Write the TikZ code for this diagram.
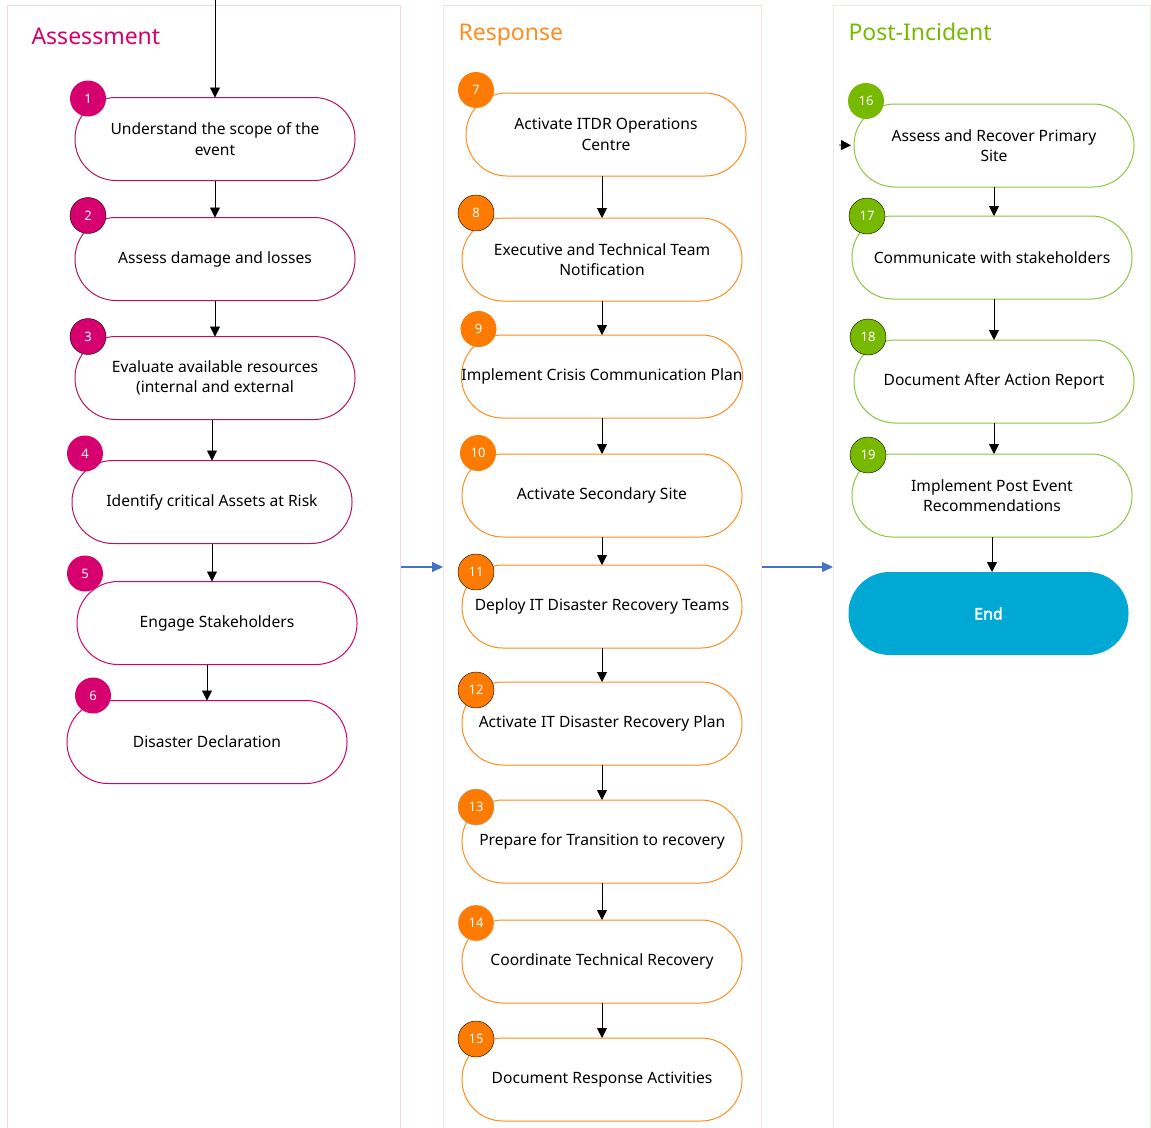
\documentclass[tikz,border=0pt]{standalone}
\usepackage{fontspec}
\setmainfont{Noto Sans}
\newfontfamily\endfont{Noto Sans}[FakeBold=2.5]
\usepackage{xcolor}
\definecolor{irmagenta}{RGB}{214,0,110}
\definecolor{irmagentaline}{RGB}{178,20,100}
\definecolor{irorange}{RGB}{255,122,0}
\definecolor{irorangeline}{RGB}{255,140,30}
\definecolor{irgreen}{RGB}{118,185,0}
\definecolor{irgreenline}{RGB}{140,198,63}
\definecolor{ircyan}{RGB}{0,169,212}
\definecolor{irblue}{RGB}{68,114,196}
\definecolor{lanepink}{RGB}{246,214,226}
\definecolor{lanepeach}{RGB}{250,224,220}
\definecolor{lanegreen}{RGB}{228,238,224}
\usetikzlibrary{arrows.meta,positioning}

\tikzset{
  lane/.style={draw=#1, line width=0.8pt, anchor=north west, minimum height=1130pt, inner sep=0pt},
  lanetitle/.style={anchor=base west, text=#1, font=\fontsize{23}{26}\selectfont},
  stepbox/.style={draw=#1, fill=white, line width=1pt, outer sep=0pt, rounded corners=41pt, minimum width=280pt, minimum height=83pt, inner xsep=0pt, align=center, font=\fontsize{15.6}{20.5}\selectfont},
  numdot/.style={circle, fill=#1, minimum size=36pt, inner sep=0pt, text=white, font=\fontsize{13}{13}\selectfont},
  endbox/.style={fill=ircyan, outer sep=0pt, rounded corners=41pt, minimum width=280pt, minimum height=83pt, text=white, font=\fontsize{16}{20}\endfont},
  flow/.style={-{Triangle[length=10pt,width=10pt]}, line width=0.8pt, black},
  handoff/.style={-{Triangle[length=11pt,width=10pt]}, line width=1.1pt, irblue},
}

\begin{document}
\begin{tikzpicture}[x=1pt, y=-1pt]
  \useasboundingbox (0,0) rectangle (1151,1127);
  % swim lanes
  \node[lane=lanepink, minimum width=393pt] (laneA) at (7,5) {};
  \node[lane=lanepeach, minimum width=318pt] (laneB) at (443,5) {};
  \node[lane=lanegreen, minimum width=317pt] (laneC) at (833,5) {};
  \node[lanetitle=irmagenta] (tA) at (28,44) {Assessment};
  \node[lanetitle=irorangeline] (tB) at (455,40) {Response};
  \node[lanetitle=irgreen] (tC) at (845,40) {Post-Incident};

  % Assessment
  \node[stepbox=irmagentaline] (p1) at (215,139) {Understand the scope of the\\event};
  \node[stepbox=irmagentaline, below=37pt of p1] (p2) {Assess damage and losses};
  \node[stepbox=irmagentaline, below=36pt of p2] (p3) {Evaluate available resources\\(internal and external};
  \node[stepbox=irmagentaline, below=41pt of p3, xshift=-3pt] (p4) {Identify critical Assets at Risk};
  \node[stepbox=irmagenta, below=38pt of p4, xshift=5pt] (p5) {Engage Stakeholders};
  \node[stepbox=irmagenta, below=36pt of p5, xshift=-10pt] (p6) {Disaster Declaration};
  \node[numdot=irmagenta] (n1) at ([xshift=13pt, yshift=-1pt]p1.north west) {1};
  \node[numdot=irmagenta, draw=black] (n2) at ([xshift=13pt, yshift=2pt]p2.north west) {2};
  \node[numdot=irmagenta, draw=black] (n3) at ([xshift=13pt]p3.north west) {3};
  \node[numdot=irmagenta] (n4) at ([xshift=13pt, yshift=7pt]p4.north west) {4};
  \node[numdot=irmagenta] (n5) at ([xshift=8pt, yshift=8pt]p5.north west) {5};
  \node[numdot=irmagenta] (n6) at ([xshift=26pt, yshift=5pt]p6.north west) {6};

  % Response
  \node[stepbox=irorangeline] (p7) at (606,134.5) {Activate ITDR Operations\\Centre};
  \node[stepbox=irorangeline, below=42pt of p7, xshift=-4pt] (p8) {Executive and Technical Team\\Notification};
  \node[stepbox=irorangeline, below=34pt of p8] (p9) {Implement Crisis Communication Plan};
  \node[stepbox=irorangeline, below=36pt of p9] (p10) {Activate Secondary Site};
  \node[stepbox=irorangeline, below=28pt of p10] (p11) {Deploy IT Disaster Recovery Teams};
  \node[stepbox=irorangeline, below=34pt of p11] (p12) {Activate IT Disaster Recovery Plan};
  \node[stepbox=irorangeline, below=35pt of p12] (p13) {Prepare for Transition to recovery};
  \node[stepbox=irorangeline, below=37pt of p13] (p14) {Coordinate Technical Recovery};
  \node[stepbox=irorangeline, below=35pt of p14] (p15) {Document Response Activities};
  \node[numdot=irorange] (n7) at ([xshift=10pt, yshift=3pt]p7.north west) {7};
  \node[numdot=irorange, draw=black] (n8) at ([xshift=14pt, yshift=5pt]p8.north west) {8};
  \node[numdot=irorange] (n9) at ([xshift=17pt, yshift=6pt]p9.north west) {9};
  \node[numdot=irorange] (n10) at ([xshift=16pt, yshift=1pt]p10.north west) {10};
  \node[numdot=irorange, draw=black] (n11) at ([xshift=14pt, yshift=-7pt]p11.north west) {11};
  \node[numdot=irorange, draw=black] (n12) at ([xshift=14pt, yshift=-8pt]p12.north west) {12};
  \node[numdot=irorange, draw=black!35] (n13) at ([xshift=14pt, yshift=-7pt]p13.north west) {13};
  \node[numdot=irorange, draw=black!15] (n14) at ([xshift=14pt, yshift=-3pt]p14.north west) {14};
  \node[numdot=irorange, draw=black] (n15) at ([xshift=14pt, yshift=-1pt]p15.north west) {15};

  % Post-Incident
  \node[stepbox=irgreenline] (p16) at (994,145.5) {Assess and Recover Primary\\Site};
  \node[stepbox=irgreenline, below=29pt of p16, xshift=-2pt] (p17) {Communicate with stakeholders};
  \node[stepbox=irgreenline, below=41pt of p17, xshift=2pt] (p18) {Document After Action Report};
  \node[stepbox=irgreenline, below=31pt of p18, xshift=-2pt] (p19) {Implement Post Event\\Recommendations};
  \node[endbox, below=35pt of p19, xshift=-3.5pt] (pEnd) {End};
  \node[numdot=irgreen] (n16) at ([xshift=12pt, yshift=3pt]p16.north west) {16};
  \node[numdot=irgreen, draw=black] (n17) at ([xshift=15pt]p17.north west) {17};
  \node[numdot=irgreen, draw=black] (n18) at ([xshift=14pt, yshift=3pt]p18.north west) {18};
  \node[numdot=irgreen, draw=black] (n19) at ([xshift=16pt, yshift=-1pt]p19.north west) {19};

  % connectors
  \coordinate (start) at (215,0);
  \coordinate (entry) at (839,145);
  \coordinate (mid) at (0,567);
  \draw[flow] (start) -- (p1.north);
  \draw[flow] (p1.south) -- (p2.north);
  \draw[flow] (p2.south) -- (p3.north);
  \draw[flow] (p4.north |- p3.south) -- (p4.north);
  \draw[flow] (p4.south) -- (p4.south |- p5.north);
  \draw[flow] (p6.north |- p5.south) -- (p6.north);
  \draw[flow] (p8.north |- p7.south) -- (p8.north);
  \draw[flow] (p8.south) -- (p9.north);
  \draw[flow] (p9.south) -- (p10.north);
  \draw[flow] (p10.south) -- (p11.north);
  \draw[flow] (p11.south) -- (p12.north);
  \draw[flow] (p12.south) -- (p13.north);
  \draw[flow] (p13.south) -- (p14.north);
  \draw[flow] (p14.south) -- (p15.north);
  \draw[flow, shorten >=3pt] (entry) -- (p16.west);
  \draw[flow] (p16.south) -- (p16.south |- p17.north);
  \draw[flow] (p18.north |- p17.south) -- (p18.north);
  \draw[flow] (p18.south) -- (p18.south |- p19.north);
  \draw[flow] (p19.south) -- (p19.south |- pEnd.north);
  \draw[handoff] (laneA.east |- mid) -- (laneB.west |- mid);
  \draw[handoff] (laneB.east |- mid) -- (laneC.west |- mid);
\end{tikzpicture}
\end{document}
